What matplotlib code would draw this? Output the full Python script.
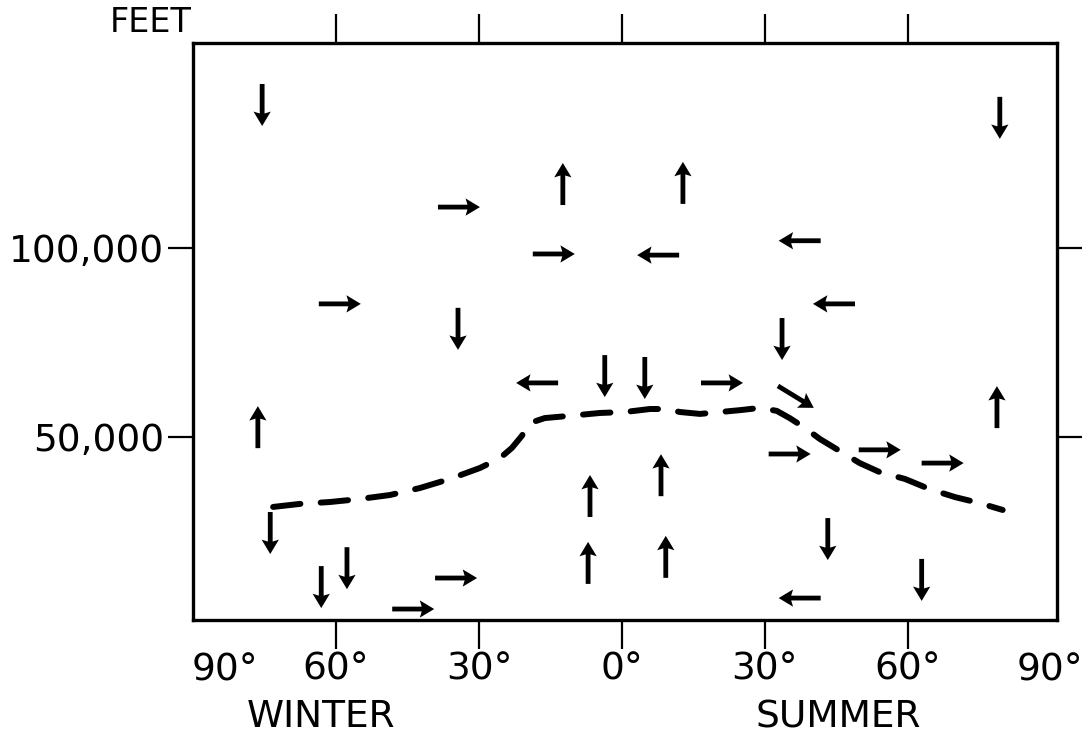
import numpy as np
import matplotlib.pyplot as plt

# latitude: negative = winter hemisphere, positive = summer hemisphere
lat_ticks = [-60, -30, 0, 30, 60]
lat_labels = ['60°', '30°', '0°', '30°', '60°']
alt_ticks = [50000, 100000]
alt_labels = ['50,000', '100,000']

# tropopause (dashed line)
trop_lat = [-73.2, -67.6, -61.3, -55.0, -48.7, -42.4, -36.1, -29.8, -25.6, -23.1,
            -21.0, -19.3, -16.2, -10.9, -4.6, 0.6, 5.9, 9.0, 12.2, 16.4, 20.6,
            24.8, 29.0, 32.5, 35.2, 38.4, 41.5, 45.7, 49.9, 54.1, 59.4, 64.6,
            69.9, 75.1, 79.9]
trop_alt = [31500, 32300, 32800, 33600, 34650, 36500, 38900, 41800, 44400, 47100,
            50300, 53700, 55000, 55600, 56350, 56600, 57400, 57400, 56600, 56100,
            56600, 57100, 57700, 56900, 55000, 52400, 49500, 46300, 43100, 40700,
            38900, 36200, 34100, 32500, 30700]

# circulation arrows: position and direction (u east-west, v up-down)
arrow_lat = [-75.5, 79.3, -34.4, 33.6, -3.6, 4.8, -73.8, -63.1, -57.7, 43.2, 62.9,
             -12.4, 12.8, -76.4, 78.7, 8.2, -6.7, -7.1, 9.2,
             -34.2, -14.3, -59.2, 21.0, 35.2, 54.1, 67.3, -34.8, -43.8,
             7.6, 37.3, 44.5, -17.8, 37.3,
             36.5]
arrow_alt = [137800, 134400, 78600, 75900, 66100, 65600, 24600, 10300, 15300, 23000, 12200,
             116900, 117200, 52600, 57900, 39900, 34400, 16700, 18300,
             110800, 98400, 85200, 64300, 45500, 46600, 43100, 12700, 4500,
             98100, 101900, 85200, 64300, 7400,
             60600]
arrow_u = [0] * 11 + [0] * 8 + [1] * 9 + [-1] * 5 + [0.85]
arrow_v = [-1] * 11 + [1] * 8 + [0] * 9 + [0] * 5 + [-0.52]

fig = plt.figure(figsize=(10.87, 7.41), dpi=100)
ax = fig.add_axes([0.1776, 0.1633, 0.7948, 0.7787])

ax.plot(trop_lat, trop_alt, color='black', lw=4.3,
        linestyle=(0, (4.6, 3.4)), dash_capstyle='round')

u = np.array(arrow_u, dtype=float)
v = np.array(arrow_v, dtype=float)
n = np.hypot(u, v)
ax.quiver(arrow_lat, arrow_alt, u / n, v / n, pivot='middle', angles='uv',
          units='inches', scale_units='inches', scale=1 / 0.42,
          width=0.048, headwidth=3.6, headlength=3.0, headaxislength=2.6,
          color='black')

ax.set_xlim(-90, 91.3)
ax.set_ylim(1600, 154200)

ax.set_xticks(lat_ticks)
ax.set_xticklabels(lat_labels)
ax.set_yticks(alt_ticks)
ax.set_yticklabels(alt_labels)

ax.tick_params(axis='x', direction='out', length=21, width=1.6, pad=2,
               top=True, labelsize=27)
ax.tick_params(axis='y', direction='out', length=18, width=1.6, pad=3,
               right=True, labelsize=27)
for s in ax.spines.values():
    s.set_linewidth(2.4)

# pole labels sit at the frame corners
xt = ax.get_xaxis_transform()
ax.text(-83.3, -0.056, '90°', transform=xt, ha='center', va='top', fontsize=27)
ax.text(89.8, -0.056, '90°', transform=xt, ha='center', va='top', fontsize=27)

fig.text(321 / 1087, 1 - 717 / 741, 'WINTER', ha='center', va='center', fontsize=27)
fig.text(838 / 1087, 1 - 717 / 741, 'SUMMER', ha='center', va='center', fontsize=27)
fig.text(0.176, 1 - 22 / 741, 'FEET', ha='right', va='center', fontsize=24)

fig.savefig('out.png', dpi=100)
